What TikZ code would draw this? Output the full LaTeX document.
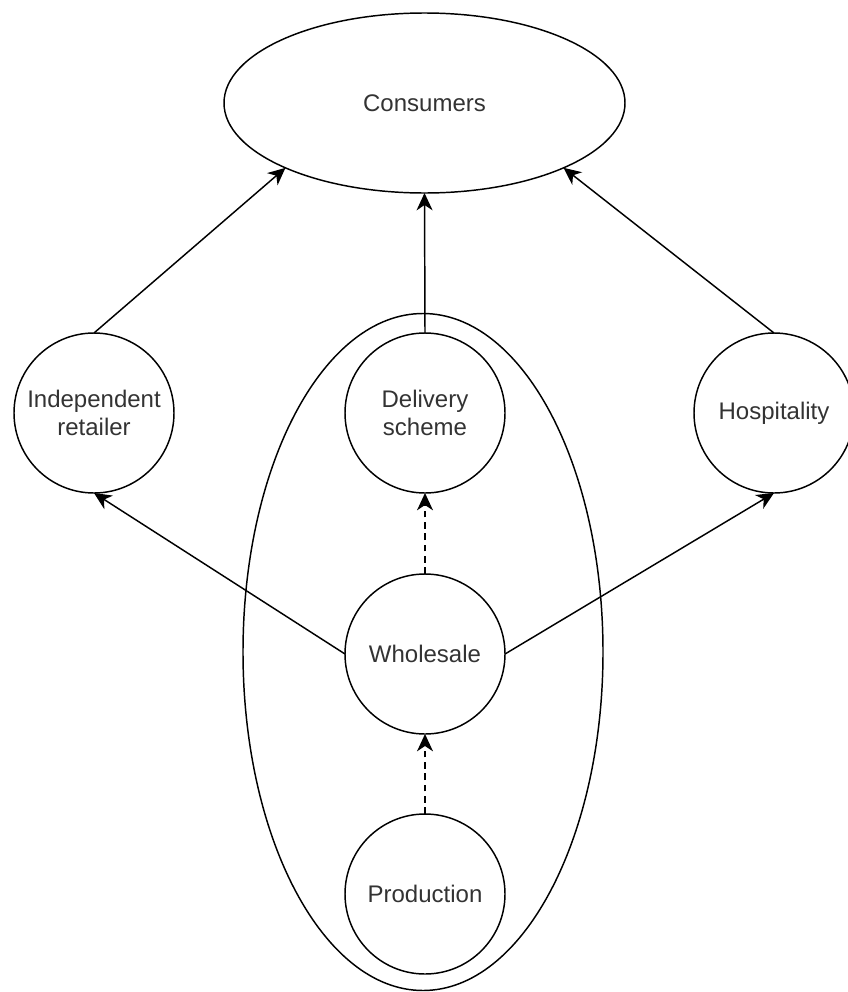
\documentclass[tikz,border=0pt]{standalone}
\usepackage{fontspec}
\setmainfont{Liberation Sans}
\usetikzlibrary{arrows.meta,shapes.geometric}

\begin{document}
\begin{tikzpicture}[x = 0.75pt, y = -0.75pt,
		every node/.style = {font = \fontsize{18}{21.6}\selectfont, text = black!80, align = center, inner sep = 0pt, outer sep = 0pt},
		place/.style = {draw, circle, line width = 1.1pt, minimum size = 120pt},
		flow/.style = {-{Stealth[length = 13pt, width = 12pt, inset = 4pt]}, line width = 1.1pt},
		maybe/.style = {flow, dash pattern = on 5pt off 3.5pt}]
		\useasboundingbox (0,0) rectangle (847,992);
		\node[draw, ellipse, line width = 1.1pt, minimum width = 270pt, minimum height = 507.75pt] (chain) at (423,652) {};
		\node[draw, ellipse, line width = 1.1pt, minimum width = 300.75pt, minimum height = 135pt] (cons) at (424.5,103) {Consumers};
		\node[place] (ir) at (94,413) {Independent\\retailer};
		\node[place] (ds) at (425,413) {Delivery\\scheme};
		\node[place] (hosp) at (774,413) {Hospitality};
		\node[place] (whole) at (425,654) {Wholesale};
		\node[place] (prod) at (425,894) {Production};
		\draw[flow] (ir.north) -- (cons.-155.5);
		\draw[flow] (ds.north) -- (cons.south);
		\draw[flow] (hosp.north) -- (cons.-25);
		\draw[flow] (whole.west) -- (ir.south);
		\draw[flow] (whole.east) -- (hosp.south);
		\draw[maybe] (whole.north) -- (ds.south);
		\draw[maybe] (prod.north) -- (whole.south);
	\end{tikzpicture}
\end{document}
